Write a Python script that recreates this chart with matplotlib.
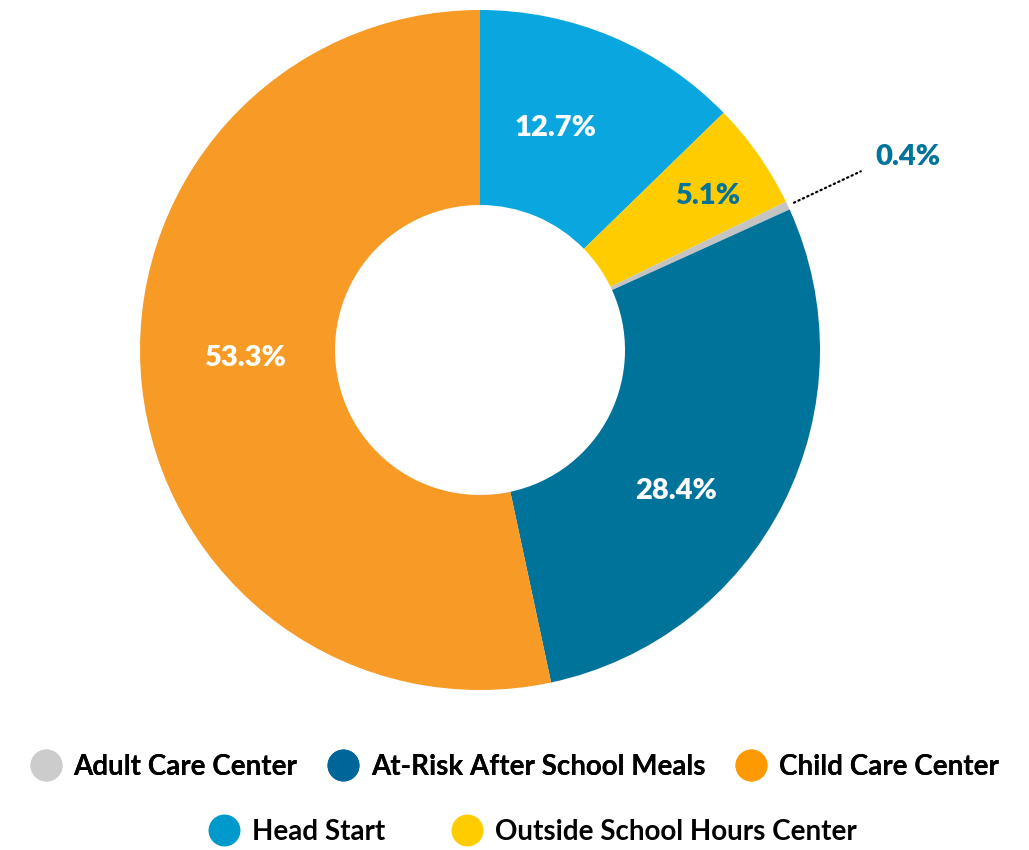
import numpy as np
import matplotlib.pyplot as plt
from matplotlib.lines import Line2D

# slices in clockwise order from 12 o'clock
slices = ["Head Start", "Outside School Hours Center", "Adult Care Center",
          "At-Risk After School Meals", "Child Care Center"]
shares = [12.7, 5.1, 0.4, 28.4, 53.3]
colors = ["#09A6E0", "#FFCC00", "#C4C4C4", "#00739A", "#F79A26"]

# legend is alphabetical
legend_names = ["Adult Care Center", "At-Risk After School Meals", "Child Care Center",
                "Head Start", "Outside School Hours Center"]
legend_colors = ["#CCCCCC", "#006699", "#FF9900", "#0099CC", "#FFCC00"]

plt.rcParams["font.family"] = ["Lato", "DejaVu Sans"]

fig = plt.figure(figsize=(10.29, 8.5), dpi=100)
ax = fig.add_axes([0, 0, 1, 1])

R = 340.0  # outer radius in px
cx, cy = 480.0, 350.0
wedges, _ = ax.pie(shares, colors=colors, startangle=90, counterclock=False,
                   radius=1.0, wedgeprops=dict(width=(340 - 145) / 340, linewidth=0))

ax.set_xlim(-cx / R, (1029 - cx) / R)
ax.set_ylim(-(850 - cy) / R, cy / R)
ax.set_aspect("equal", adjustable="box")
ax.axis("off")

# label placement: radius and angle tweak per slice
lab_r = [0.69, 0.81, 1.37, 0.71, 0.69]
lab_da = [4, -1, -0.7, -9, -4]
for i, w in enumerate(wedges):
    mid = np.deg2rad((w.theta1 + w.theta2) / 2 + lab_da[i])
    x, y = lab_r[i] * np.cos(mid), lab_r[i] * np.sin(mid)
    txt = f"{shares[i]}%"
    if shares[i] < 1:
        m = np.deg2rad((w.theta1 + w.theta2) / 2)
        ax.plot([1.02 * np.cos(m), 1.237 * np.cos(m)], [1.02 * np.sin(m), 1.237 * np.sin(m)],
                color="black", lw=1.6, ls=(0, (0.6, 1.6)), dash_capstyle="round")
        ax.text(x + 0.01, y, txt, ha="center", va="center", fontsize=21,
                fontweight="heavy", color="#00739A")
    else:
        tc = "#00739A" if slices[i].startswith("Outside") else "white"
        ax.text(x, y, txt, ha="center", va="center", fontsize=21,
                fontweight="heavy", color=tc)


def handles(names, cols):
    return [Line2D([0], [0], marker="o", ls="", markersize=23, markerfacecolor=c,
                   markeredgewidth=0, label=n) for n, c in zip(names, cols)]


leg_font = dict(size=20, weight="bold")
leg1 = fig.legend(handles=handles(legend_names[:3], legend_colors[:3]), ncol=3,
                  loc="center", bbox_to_anchor=(0.5, 1 - 767 / 850), frameon=False,
                  prop=leg_font, handletextpad=0.45,
                  columnspacing=1.1, handlelength=1.1)
fig.add_artist(leg1)
fig.legend(handles=handles(legend_names[3:], legend_colors[3:]), ncol=2,
           loc="center", bbox_to_anchor=(0.518, 1 - 832 / 850), frameon=False,
           prop=leg_font, handletextpad=0.45,
           columnspacing=2.4, handlelength=1.1)

fig.savefig("out.png", dpi=100, facecolor="white")
